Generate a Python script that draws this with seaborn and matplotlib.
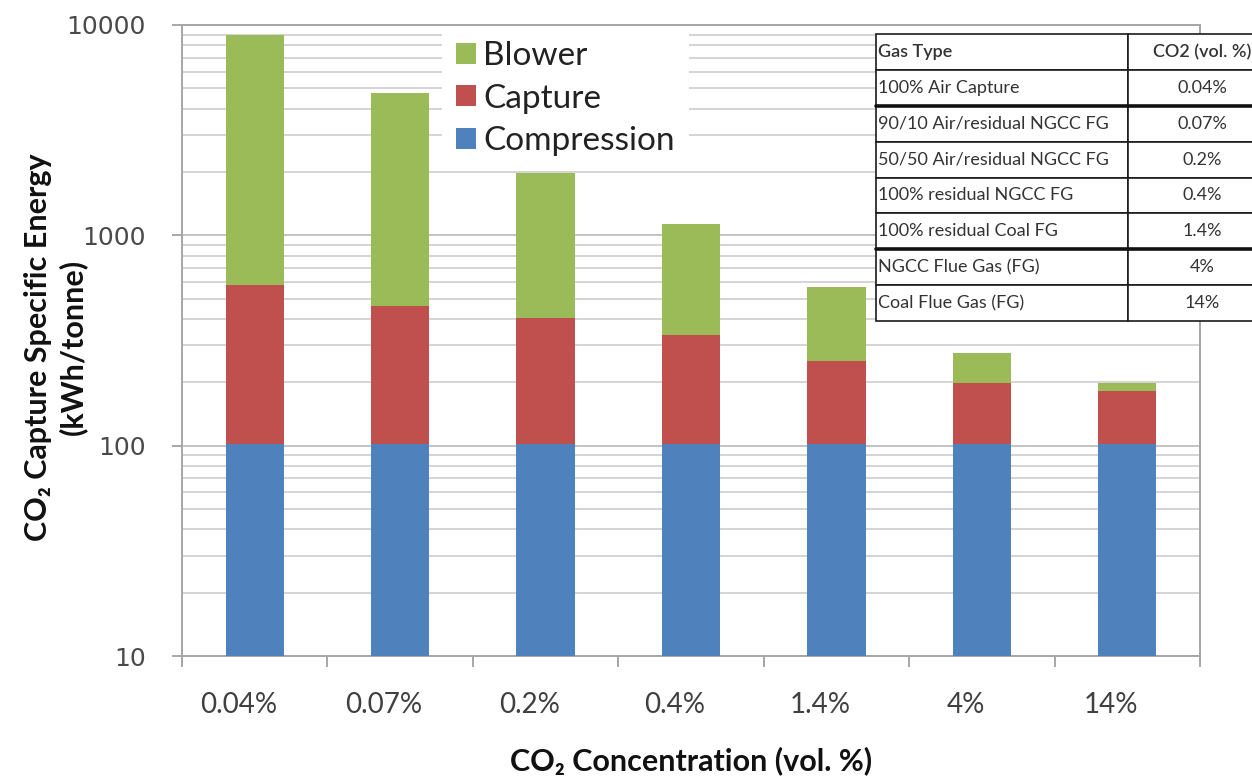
import numpy as np
import pandas as pd
import matplotlib
matplotlib.use("Agg")
import matplotlib.pyplot as plt
import matplotlib.ticker as mticker
from matplotlib.patches import Patch
import seaborn as sns

# ---- data -------------------------------------------------------------
concentrations = ["0.04%", "0.07%", "0.2%", "0.4%", "1.4%", "4%", "14%"]
compression = [102, 102, 102, 102, 102, 102, 102]          # kWh/tonne
capture = [477, 359, 301, 233, 150, 96, 80]                 # kWh/tonne
blower = [8420, 4270, 1570, 793, 314, 77, 16]               # kWh/tonne

series_names = ["Blower", "Capture", "Compression"]
series_colors = ["#9BBB59", "#C0504D", "#4F81BD"]

table_header = ["Gas Type", "CO2 (vol. %)"]
gas_types = [
    "100% Air Capture",
    "90/10 Air/residual NGCC FG",
    "50/50 Air/residual NGCC FG",
    "100% residual NGCC FG",
    "100% residual Coal FG",
    "NGCC Flue Gas (FG)",
    "Coal Flue Gas (FG)",
]
gas_co2 = ["0.04%", "0.07%", "0.2%", "0.4%", "1.4%", "4%", "14%"]

# ---- styling ----------------------------------------------------------
sns.set_theme(style="white")
plt.rcParams["font.family"] = ["Lato", "DejaVu Sans"]

W, H = 1252, 781
fig = plt.figure(figsize=(W / 100, H / 100), dpi=100)
ax = fig.add_axes([182 / W, 1 - 656 / H, (1200 - 182) / W, (656 - 25) / H])

df = pd.DataFrame({
    "conc": concentrations,
    "comp": compression,
    "capt": capture,
    "blow": blower,
})
df["capt_top"] = df["comp"] + df["capt"]
df["blow_top"] = df["capt_top"] + df["blow"]

# Stacked bars drawn as overlapping cumulative totals (tallest first)
for col, color in zip(["blow_top", "capt_top", "comp"], series_colors):
    sns.barplot(data=df, x="conc", y=col, order=concentrations, color=color,
                saturation=1, width=0.4, errorbar=None, ax=ax, zorder=3,
                linewidth=0)

ax.set_yscale("log")
ax.set_ylim(10, 10000)
ax.set_xlim(-0.5, len(concentrations) - 0.5)

# y axis: decade labels, gridlines at every minor step
ax.yaxis.set_major_locator(mticker.FixedLocator([10, 100, 1000, 10000]))
ax.yaxis.set_major_formatter(mticker.FuncFormatter(lambda v, p: f"{v:g}"))
ax.yaxis.set_minor_locator(mticker.LogLocator(base=10, subs=np.arange(2, 10)))
ax.yaxis.set_minor_formatter(mticker.NullFormatter())
ax.yaxis.grid(True, which="major", color="#c4c4c4", lw=1.4, zorder=0)
ax.yaxis.grid(True, which="minor", color="#d4d4d4", lw=1.4, zorder=0)
ax.xaxis.grid(False)
ax.set_axisbelow(True)

ax.tick_params(axis="y", which="major", direction="out", length=7, width=1.3,
               color="#a0a0a0", pad=19, labelsize=18, labelcolor="#4a4a4a",
               labelfontfamily="DejaVu Sans", left=True)
ax.tick_params(axis="y", which="minor", length=0, left=False)

# x axis: labels sit slightly left of bar centres, tick marks between categories
ax.set_xticks(np.arange(len(concentrations)) - 0.11, concentrations)
ax.xaxis.set_minor_locator(mticker.FixedLocator(np.arange(-0.5, len(concentrations), 1.0)))
ax.tick_params(axis="x", which="major", length=0, pad=26, labelsize=20,
               labelcolor="#404040", bottom=True)
ax.tick_params(axis="x", which="minor", direction="out", length=8, width=1.3,
               color="#a0a0a0", bottom=True)

for s in ax.spines.values():
    s.set_visible(True)
    s.set_color("#a6a6a6")
    s.set_linewidth(1.4)

ax.set_xlabel("CO₂ Concentration (vol. %)", fontsize=22, fontweight="bold",
              color="#111111", labelpad=20)
ax.set_ylabel("CO₂ Capture Specific Energy\n(kWh/tonne)", fontsize=22,
              fontweight="bold", color="#111111", linespacing=1.25)
ax.yaxis.set_label_coords((87 - 182) / (1200 - 182), 0.49)

handles = [Patch(facecolor=c, edgecolor="none", label=n)
           for n, c in zip(series_names, series_colors)]
leg = ax.legend(handles=handles, loc="upper left",
                bbox_to_anchor=((442 - 182) / 1018, (656 - 27) / 631),
                fontsize=24, frameon=True, fancybox=False, framealpha=1,
                edgecolor="none", facecolor="white", handlelength=0.6,
                handleheight=0.6, handletextpad=0.22, labelspacing=0.38,
                borderpad=0.42, borderaxespad=0)
for t in leg.get_texts():
    t.set_color("#222222")
leg.set_zorder(5)

# ---- gas-type table ---------------------------------------------------
tax = fig.add_axes([876 / W, 1 - 321 / H, 400 / W, (321 - 34) / H])
tax.axis("off")
tax.set_xlim(0, 1)
tax.set_ylim(0, 1)
cell_text = [[g, c] for g, c in zip(gas_types, gas_co2)]
tbl = tax.table(cellText=cell_text, colLabels=table_header,
                colWidths=[0.63, 0.37], bbox=[0, 0, 1, 1])
tbl.auto_set_font_size(False)
for (r, c), cell in tbl.get_celld().items():
    cell.PAD = 0.008
    cell.set_edgecolor("#1a1a1a")
    cell.set_linewidth(1.2)
    cell.set_facecolor("white")
    txt = cell.get_text()
    txt.set_fontsize(13)
    txt.set_color("#333333")
    if r == 0:
        txt.set_fontweight("semibold")
    if c == 0:
        cell.set_text_props(ha="left")
        cell._loc = "left"
    else:
        cell.set_text_props(ha="center")
        cell._loc = "center"

n_rows = len(gas_types) + 1
for boundary in (2, 6):
    tax.axhline(1 - boundary / n_rows, color="#111111", lw=2.6, zorder=10,
                clip_on=False)

fig.savefig("out.png", dpi=100, facecolor="white")
